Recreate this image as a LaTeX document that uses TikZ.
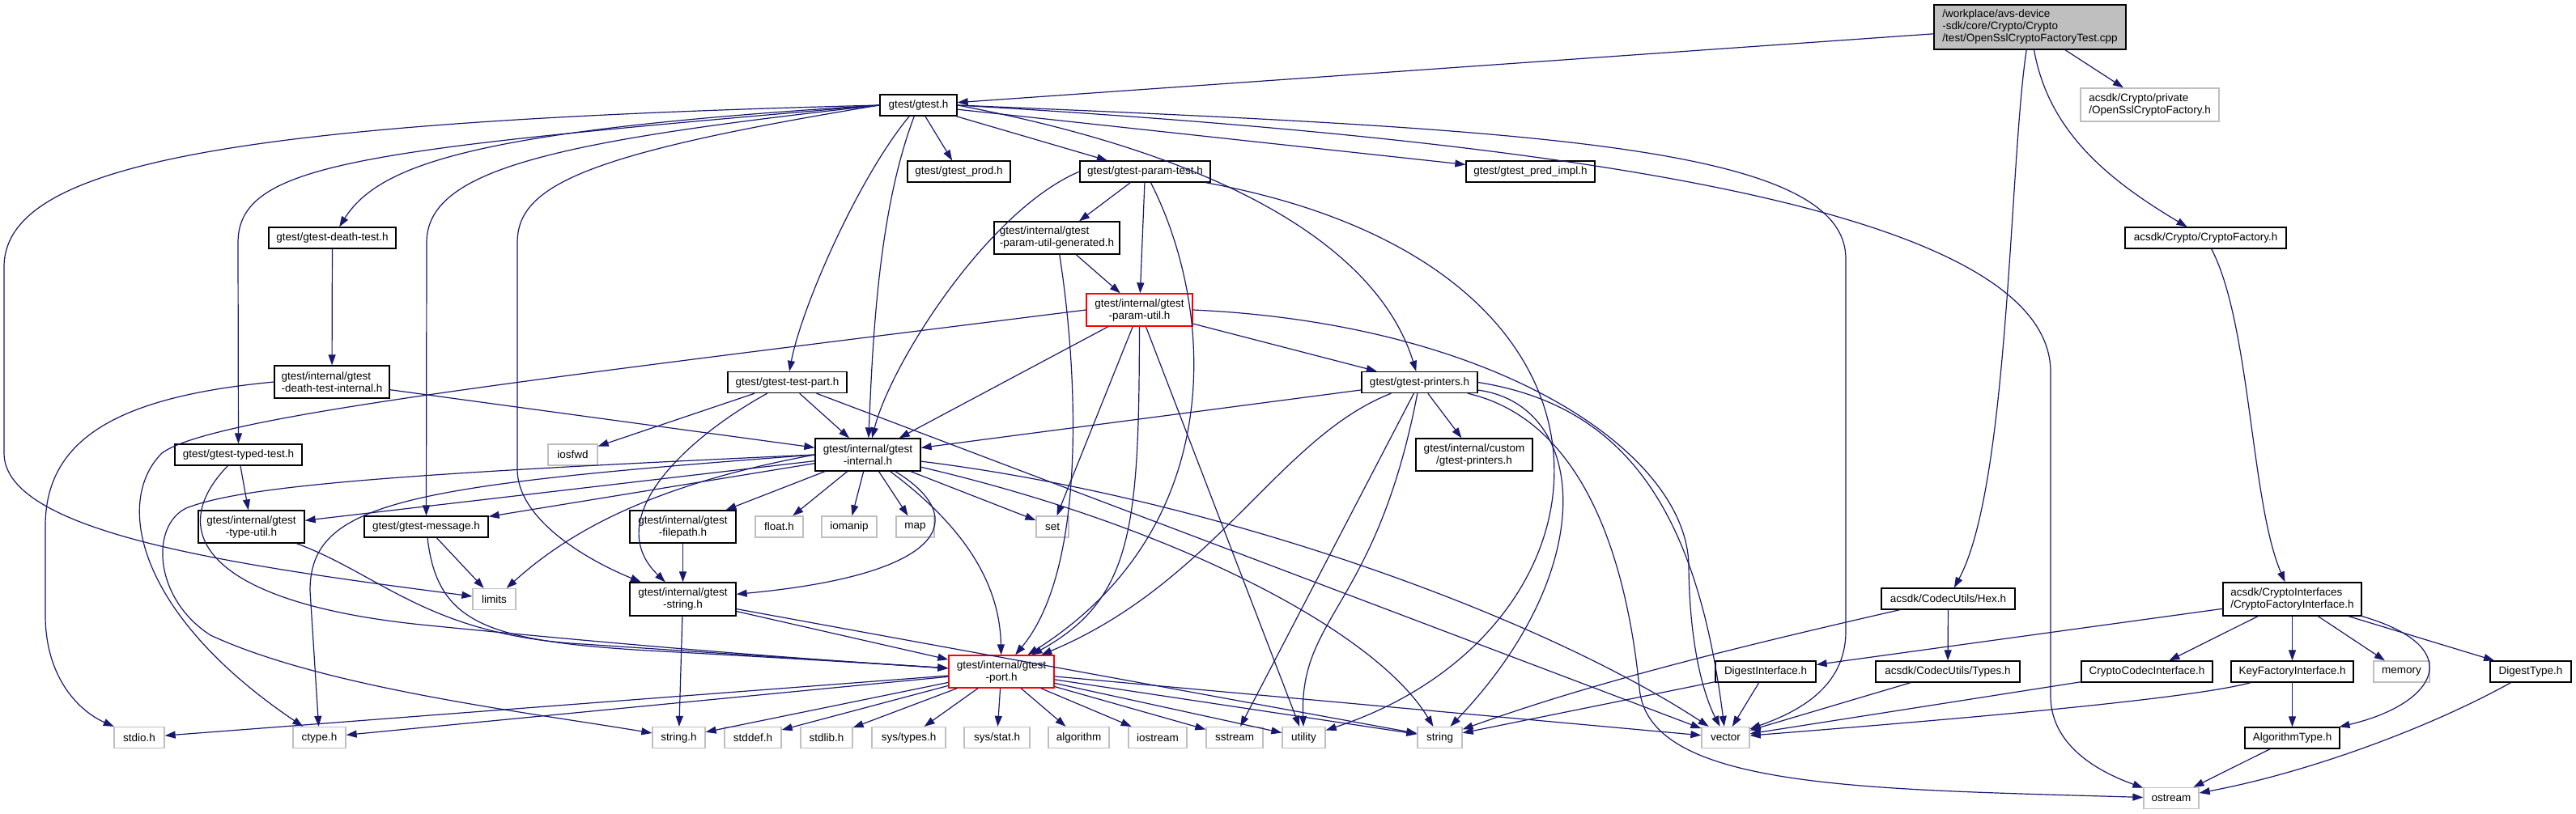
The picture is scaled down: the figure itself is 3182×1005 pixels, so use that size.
\documentclass[tikz,border=0pt]{standalone}
\usepackage{fontspec}
\setmainfont{Liberation Sans}
\usetikzlibrary{arrows.meta}

\definecolor{incline}{RGB}{25,25,112}
\definecolor{incgray}{RGB}{191,191,191}
\definecolor{incroot}{RGB}{191,191,191}
\definecolor{incred}{RGB}{255,0,0}

\begin{document}
\begin{tikzpicture}[
		x=1pt, y=-1pt,
		font=\fontsize{13.5}{15}\selectfont,
		hdr/.style={rectangle, draw=black, fill=white, line width=1.3pt,
			inner xsep=4pt, inner ysep=6pt, minimum height=26pt, align=center},
		ext/.style={hdr, draw=incgray},
		trunc/.style={hdr, draw=incred},
		root/.style={hdr, fill=incroot},
		incl/.style={-{Triangle[length=13pt,width=9pt]}, draw=incline, fill=none, line width=1.2pt}
	]
		\useasboundingbox (0,0) rectangle (3182,1005);
		% root file
		\node[root, align=left, minimum width=237pt, minimum height=55pt] (main) at (2507.5,33.5) {/workplace/avs-device\\-sdk/core/Crypto/Crypto\\/test/OpenSslCryptoFactoryTest.cpp};
		% rank 1
		\node[hdr, minimum width=95pt] (gtest) at (1134.5,130) {gtest/gtest.h};
		\node[ext, align=left, minimum width=171pt, minimum height=41pt] (openssl) at (2655.5,129.5) {acsdk/Crypto/private\\/OpenSslCryptoFactory.h};
		% rank 2
		\node[hdr, minimum width=127pt] (prod) at (1184.5,212) {gtest/gtest\_prod.h};
		\node[hdr, minimum width=161pt] (paramtest) at (1414.5,212) {gtest/gtest-param-test.h};
		\node[hdr, minimum width=159pt] (predimpl) at (1890.5,212) {gtest/gtest\_pred\_impl.h};
		% rank 3
		\node[hdr, minimum width=157pt] (deathtest) at (410.5,294) {gtest/gtest-death-test.h};
		\node[hdr, align=left, minimum width=155pt, minimum height=40pt] (paramutilgen) at (1305.5,294) {gtest/internal/gtest\\-param-util-generated.h};
		\node[hdr, minimum width=199pt] (cryptofactory) at (2724.5,294) {acsdk/Crypto/CryptoFactory.h};
		% rank 4
		\node[trunc, minimum width=131pt, minimum height=40pt] (paramutil) at (1407.5,383) {gtest/internal/gtest\\-param-util.h};
		% rank 5
		\node[hdr, align=left, minimum width=142pt, minimum height=40pt] (deathinternal) at (410,472) {gtest/internal/gtest\\-death-test-internal.h};
		\node[hdr, minimum width=147pt] (testpart) at (972.5,472.5) {gtest/gtest-test-part.h};
		\node[hdr, minimum width=143pt] (printers) at (1753.5,472.5) {gtest/gtest-printers.h};
		% rank 6
		\node[hdr, minimum width=157pt] (typedtest) at (294.5,562) {gtest/gtest-typed-test.h};
		\node[ext, minimum width=61pt] (iosfwd) at (707.5,562) {iosfwd};
		\node[hdr, minimum width=130pt, minimum height=40pt] (internal) at (1072,562) {gtest/internal/gtest\\-internal.h};
		\node[hdr, minimum width=144pt, minimum height=40pt] (custom) at (1821,562) {gtest/internal/custom\\/gtest-printers.h};
		% rank 7
		\node[hdr, minimum width=131pt, minimum height=40pt] (typeutil) at (310.5,651) {gtest/internal/gtest\\-type-util.h};
		\node[hdr, minimum width=153pt] (message) at (526.5,651) {gtest/gtest-message.h};
		\node[hdr, minimum width=131pt, minimum height=40pt] (filepath) at (843.5,651) {gtest/internal/gtest\\-filepath.h};
		\node[ext, minimum width=59pt] (floath) at (962.5,651) {float.h};
		\node[ext, minimum width=68pt] (iomanip) at (1049,651) {iomanip};
		\node[ext, minimum width=47pt] (map) at (1130.5,651) {map};
		\node[ext, minimum width=40pt] (set) at (1300,651) {set};
		% rank 8
		\node[ext, minimum width=53pt] (limits) at (610.5,740.5) {limits};
		\node[hdr, minimum width=131pt, minimum height=41pt] (gstring) at (843.5,740.5) {gtest/internal/gtest\\-string.h};
		\node[hdr, minimum width=165pt] (hex) at (2406.5,740) {acsdk/CodecUtils/Hex.h};
		\node[hdr, align=left, minimum width=171pt, minimum height=41pt] (cfi) at (2831.5,740.5) {acsdk/CryptoInterfaces\\/CryptoFactoryInterface.h};
		% rank 9
		\node[trunc, minimum width=130pt, minimum height=40pt] (port) at (1237,830) {gtest/internal/gtest\\-port.h};
		\node[hdr, minimum width=124pt] (digestif) at (2181,830) {DigestInterface.h};
		\node[hdr, minimum width=178pt] (types) at (2406,830) {acsdk/CodecUtils/Types.h};
		\node[hdr, minimum width=162pt] (codecif) at (2652,830) {CryptoCodecInterface.h};
		\node[hdr, minimum width=151pt] (keyfactory) at (2831.5,830) {KeyFactoryInterface.h};
		\node[ext, minimum width=69pt] (memory) at (2966.5,830) {memory};
		\node[hdr, minimum width=100pt] (digesttype) at (3126,830) {DigestType.h};
		% rank 10
		\node[ext, minimum width=62pt] (stdio) at (172,911.5) {stdio.h};
		\node[ext, minimum width=65pt] (ctype) at (394.5,911.5) {ctype.h};
		\node[ext, minimum width=65pt] (stringh) at (838.5,911.5) {string.h};
		\node[ext, minimum width=70pt] (stddef) at (930,911.5) {stddef.h};
		\node[ext, minimum width=64pt] (stdlib) at (1021,911.5) {stdlib.h};
		\node[ext, minimum width=91pt] (systypes) at (1122.5,911.5) {sys/types.h};
		\node[ext, minimum width=81pt] (sysstat) at (1231.5,911.5) {sys/stat.h};
		\node[ext, minimum width=75pt] (algorithm) at (1332.5,911.5) {algorithm};
		\node[ext, minimum width=72pt] (iostream) at (1430,911.5) {iostream};
		\node[ext, minimum width=70pt] (sstream) at (1525,911.5) {sstream};
		\node[ext, minimum width=53pt] (utility) at (1610.5,911.5) {utility};
		\node[ext, minimum width=55pt] (string) at (1778.5,911.5) {string};
		\node[ext, minimum width=59pt] (vector) at (2131.5,911.5) {vector};
		\node[hdr, minimum width=117pt] (algotype) at (2831.5,912) {AlgorithmType.h};
		% rank 11
		\node[ext, minimum width=68pt] (ostream) at (2682,986.5) {ostream};
		% root includes
		\draw[incl] (main) -- (gtest);
		\draw[incl] (main) -- (openssl);
		\draw[incl] (main) .. controls (2530,160) and (2600,220) .. (cryptofactory);
		\draw[incl] (main) .. controls (2482,200) and (2482,600) .. (hex);
		% gtest.h
		\draw[incl] (gtest) -- (prod);
		\draw[incl] (gtest) -- (paramtest);
		\draw[incl] (gtest) -- (predimpl);
		\draw[incl] (gtest) .. controls (1060,220) and (990,380) .. (testpart);
		\draw[incl] (gtest) .. controls (1085,260) and (1078,420) .. (internal);
		\draw[incl] (gtest.east) .. controls (1500,190) and (1700,300) .. (printers);
		\draw[incl] (gtest.east) .. controls (1900,160) and (2280,180) .. (2280,320) -- (2280,780) .. controls (2280,850) and (2220,880) .. (vector);
		\draw[incl] (gtest.east) .. controls (1950,175) and (2533,260) .. (2533,460) -- (2533,860) .. controls (2533,930) and (2610,960) .. (ostream);
		\draw[incl] (gtest.west) .. controls (600,160) and (470,200) .. (deathtest);
		\draw[incl] (gtest.west) .. controls (450,185) and (294,200) .. (294,300) -- (typedtest);
		\draw[incl] (gtest.west) .. controls (680,175) and (527,210) .. (527,300) -- (message);
		\draw[incl] (gtest.west) .. controls (720,190) and (639,230) .. (639,300) -- (639,580) .. controls (639,640) and (720,690) .. (gstring);
		\draw[incl] (gtest.west) .. controls (300,150) and (5,200) .. (5,330) -- (5,560) .. controls (5,660) and (300,700) .. (limits);
		% death test
		\draw[incl] (deathtest) -- (deathinternal);
		\draw[incl] (deathinternal) -- (internal);
		\draw[incl] (deathinternal.west) .. controls (150,490) and (56,540) .. (56,650) -- (56,760) .. controls (56,840) and (100,880) .. (stdio);
		% param test
		\draw[incl] (paramtest) -- (paramutilgen);
		\draw[incl] (paramtest) -- (paramutil);
		\draw[incl] (paramtest.west) .. controls (1220,260) and (1100,450) .. (internal);
		\draw[incl] (paramtest) .. controls (1500,380) and (1520,650) .. (port);
		\draw[incl] (paramtest) .. controls (2060,330) and (2010,780) .. (utility);
		\draw[incl] (paramutilgen) -- (paramutil);
		\draw[incl] (paramutilgen) .. controls (1330,450) and (1345,700) .. (port);
		% param util
		\draw[incl] (paramutil.west) .. controls (650,470) and (260,515) .. (200,560) .. controls (140,620) and (170,760) .. (ctype);
		\draw[incl] (paramutil) -- (internal);
		\draw[incl] (paramutil) -- (set);
		\draw[incl] (paramutil) .. controls (1407,650) and (1400,740) .. (port);
		\draw[incl] (paramutil) -- (utility);
		\draw[incl] (paramutil) -- (printers);
		\draw[incl] (paramutil.east) .. controls (1850,400) and (2085,560) .. (2086,700) .. controls (2087,800) and (2105,860) .. (vector);
		% printers
		\draw[incl] (printers) -- (custom);
		\draw[incl] (printers) -- (internal);
		\draw[incl] (printers) .. controls (1580,540) and (1500,720) .. (port);
		\draw[incl] (printers) -- (sstream);
		\draw[incl] (printers) .. controls (1700,750) and (1605,760) .. (utility);
		\draw[incl] (printers) .. controls (1960,500) and (1980,700) .. (string);
		\draw[incl] (printers.east) .. controls (2000,500) and (2095,620) .. (vector);
		\draw[incl] (printers) .. controls (1960,520) and (2010,700) .. (2025,850) .. controls (2035,975) and (2300,975) .. (ostream);
		% test part
		\draw[incl] (testpart) -- (iosfwd);
		\draw[incl] (testpart) -- (internal);
		\draw[incl] (testpart) .. controls (850,540) and (740,640) .. (gstring);
		\draw[incl] (testpart) -- (vector);
		% typed test, type util, message, filepath, string
		\draw[incl] (typedtest) -- (typeutil);
		\draw[incl] (typedtest) .. controls (200,660) and (260,745) .. (520,772) .. controls (800,800) and (1000,815) .. (port);
		\draw[incl] (typeutil) .. controls (470,710) and (530,785) .. (720,796) .. controls (900,808) and (1050,818) .. (port);
		\draw[incl] (message) -- (limits);
		\draw[incl] (message) .. controls (540,770) and (600,792) .. (800,804) .. controls (950,812) and (1080,820) .. (port);
		\draw[incl] (filepath) -- (gstring);
		\draw[incl] (gstring) -- (stringh);
		\draw[incl] (gstring) -- (port);
		\draw[incl] (gstring) -- (string);
		% gtest-internal.h
		\draw[incl] (internal) -- (typeutil);
		\draw[incl] (internal) -- (message);
		\draw[incl] (internal.west) .. controls (800,600) and (700,660) .. (limits);
		\draw[incl] (internal.west) .. controls (500,600) and (383,620) .. (383,730) -- (ctype);
		\draw[incl] (internal.west) .. controls (500,585) and (300,600) .. (230,628) .. controls (185,650) and (190,740) .. (260,785) .. controls (400,850) and (650,880) .. (stringh);
		\draw[incl] (internal) -- (filepath);
		\draw[incl] (internal) -- (floath);
		\draw[incl] (internal) -- (iomanip);
		\draw[incl] (internal) -- (map);
		\draw[incl] (internal) -- (set);
		\draw[incl] (internal) .. controls (1190,650) and (1235,720) .. (port);
		\draw[incl] (internal) .. controls (1200,640) and (1170,710) .. (gstring);
		\draw[incl] (internal) .. controls (1450,650) and (1700,780) .. (string);
		\draw[incl] (internal) .. controls (1500,615) and (1900,760) .. (vector);
		% gtest-port.h
		\draw[incl] (port) -- (stdio);
		\draw[incl] (port) -- (ctype);
		\draw[incl] (port) -- (stringh);
		\draw[incl] (port) -- (stddef);
		\draw[incl] (port) -- (stdlib);
		\draw[incl] (port) -- (systypes);
		\draw[incl] (port) -- (sysstat);
		\draw[incl] (port) -- (algorithm);
		\draw[incl] (port) -- (iostream);
		\draw[incl] (port) -- (sstream);
		\draw[incl] (port) -- (utility);
		\draw[incl] (port) -- (string);
		\draw[incl] (port) -- (vector);
		% crypto side
		\draw[incl] (hex) -- (types);
		\draw[incl] (hex) .. controls (2100,810) and (1950,850) .. (string);
		\draw[incl] (cryptofactory) .. controls (2780,400) and (2780,620) .. (cfi);
		\draw[incl] (cfi) -- (digestif);
		\draw[incl] (cfi) -- (codecif);
		\draw[incl] (cfi) -- (keyfactory);
		\draw[incl] (cfi) -- (memory);
		\draw[incl] (cfi) -- (digesttype);
		\draw[incl] (cfi.south east) .. controls (3050,800) and (3010,870) .. (algotype);
		\draw[incl] (digestif) -- (string);
		\draw[incl] (digestif) -- (vector);
		\draw[incl] (types) -- (vector);
		\draw[incl] (codecif) -- (vector);
		\draw[incl] (keyfactory) .. controls (2700,865) and (2400,890) .. (vector);
		\draw[incl] (keyfactory) -- (algotype);
		\draw[incl] (algotype) -- (ostream);
		\draw[incl] (digesttype) .. controls (3000,900) and (2850,955) .. (ostream);
	\end{tikzpicture}
\end{document}
